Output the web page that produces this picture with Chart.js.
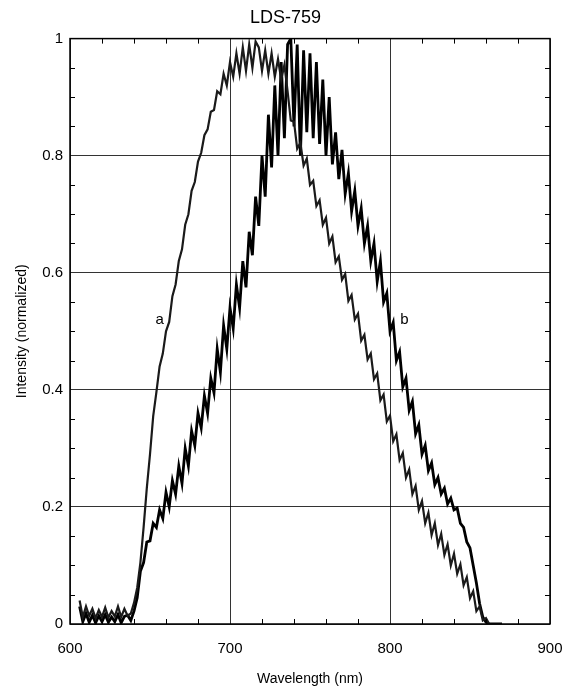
<!DOCTYPE html>
<html>
<head>
<meta charset="utf-8">
<title>LDS-759</title>
<script src="https://cdn.jsdelivr.net/npm/chart.js@4.4.1/dist/chart.umd.min.js"></script>
<style>
  html, body { margin: 0; padding: 0; background: #fff; }
  #wrap { width: 571px; height: 688px; }
</style>
</head>
<body>
<div id="wrap"><canvas id="chart" width="571" height="688"></canvas></div>
<script>
// wavelength in nm, 2 nm steps
const wavelength = [
  606, 608, 610, 612, 614, 616, 618, 620, 622, 624, 626, 628, 630, 632, 634, 636, 638, 640,
  642, 644, 646, 648, 650, 652, 654, 656, 658, 660, 662, 664, 666, 668, 670, 672, 674, 676,
  678, 680, 682, 684, 686, 688, 690, 692, 694, 696, 698, 700, 702, 704, 706, 708, 710, 712,
  714, 716, 718, 720, 722, 724, 726, 728, 730, 732, 734, 736, 738, 740, 742, 744, 746, 748,
  750, 752, 754, 756, 758, 760, 762, 764, 766, 768, 770, 772, 774, 776, 778, 780, 782, 784,
  786, 788, 790, 792, 794, 796, 798, 800, 802, 804, 806, 808, 810, 812, 814, 816, 818, 820,
  822, 824, 826, 828, 830, 832, 834, 836, 838, 840, 842, 844, 846, 848, 850, 852, 854, 856,
  858, 860, 862, 864, 866, 868, 870
];

// spectrum a (normalized intensity)
const intensityA = [
  0.040, 0.012, 0.030, 0.014, 0.026, 0.010, 0.024, 0.012, 0.028, 0.011, 0.022, 0.013, 0.030, 0.012, 0.026, 0.014, 0.018,
  0.036, 0.062, 0.105, 0.165, 0.232, 0.290, 0.355, 0.396, 0.440, 0.462, 0.500, 0.516, 0.560, 0.580, 0.620, 0.640, 0.682, 0.700,
  0.740, 0.755, 0.790, 0.805, 0.835, 0.845, 0.875, 0.878, 0.910, 0.905, 0.940, 0.920, 0.960, 0.935, 0.975, 0.940, 0.985, 0.945,
  0.990, 0.950, 0.995, 0.985, 0.945, 0.980, 0.940, 0.975, 0.935, 0.965, 0.930, 0.955, 0.910, 0.860, 0.858, 0.812, 0.822,
  0.783, 0.795, 0.750, 0.757, 0.714, 0.724, 0.682, 0.694, 0.650, 0.662, 0.618, 0.628, 0.588, 0.598, 0.552, 0.562, 0.520, 0.530,
  0.484, 0.494, 0.452, 0.462, 0.418, 0.428, 0.382, 0.392, 0.346, 0.356, 0.312, 0.324, 0.280, 0.292, 0.250, 0.264, 0.222, 0.236,
  0.195, 0.210, 0.172, 0.190, 0.152, 0.172, 0.135, 0.154, 0.118, 0.136, 0.100, 0.120, 0.086, 0.102, 0.066, 0.080, 0.044, 0.056,
  0.022, 0.030, 0.006, 0.010, 0.000, 0.000, 0.000, 0.000, 0.000
];

// spectrum b (normalized intensity)
const intensityB = [
  0.030, 0.004, 0.018, 0.003, 0.015, 0.002, 0.014, 0.004, 0.016, 0.003, 0.012, 0.004, 0.016, 0.002, 0.013, 0.015, 0.006,
  0.022, 0.045, 0.090, 0.105, 0.140, 0.142, 0.172, 0.165, 0.195, 0.180, 0.225, 0.200, 0.245, 0.222, 0.270, 0.240, 0.300, 0.270,
  0.330, 0.305, 0.360, 0.335, 0.390, 0.360, 0.420, 0.395, 0.470, 0.430, 0.510, 0.470, 0.540, 0.505, 0.580, 0.540, 0.620, 0.575,
  0.670, 0.630, 0.730, 0.680, 0.800, 0.730, 0.870, 0.780, 0.920, 0.800, 0.960, 0.830, 0.990, 1.000, 0.850, 0.990, 0.800,
  0.980, 0.840, 0.975, 0.830, 0.960, 0.820, 0.930, 0.800, 0.900, 0.785, 0.840, 0.760, 0.810, 0.735, 0.770, 0.705, 0.740, 0.680,
  0.710, 0.650, 0.680, 0.620, 0.650, 0.585, 0.620, 0.550, 0.565, 0.500, 0.515, 0.450, 0.465, 0.405, 0.420, 0.365, 0.380, 0.325,
  0.340, 0.290, 0.305, 0.262, 0.275, 0.238, 0.250, 0.222, 0.232, 0.205, 0.215, 0.195, 0.198, 0.172, 0.165, 0.140, 0.130, 0.100,
  0.070, 0.035, 0.012, 0.003, 0.000, 0.000, 0.000, 0.000, 0.000
];

// axis ticks
const xTicks = [600, 700, 800, 900];
const yTicks = [0, 0.2, 0.4, 0.6, 0.8, 1];
const xMinorTicks = [620, 640, 660, 680, 720, 740, 760, 780, 820, 840, 860, 880];
const yMinorTicks = [0.05, 0.1, 0.15, 0.25, 0.3, 0.35, 0.45, 0.5, 0.55, 0.65, 0.7, 0.75, 0.85, 0.9, 0.95];

// curve names and where they sit (data units)
const curveNames = ["a", "b"];
const curveNameX = [656, 809];
const curveNameY = [0.52, 0.52];

const FONT = "'Liberation Sans', Arial, Helvetica, sans-serif";

function toPoints(ys) {
  return wavelength.map((w, i) => ({ x: w, y: ys[i] }));
}

// frame + inward minor ticks + curve names
const extras = {
  id: "extras",
  afterDatasetsDraw(chart) {
    const { ctx, chartArea: a, scales: { x, y } } = chart;
    ctx.save();
    ctx.strokeStyle = "#000";
    ctx.lineWidth = 1;
    ctx.beginPath();
    for (const v of xMinorTicks) {
      const px = Math.round(x.getPixelForValue(v)) + 0.5;
      ctx.moveTo(px, a.bottom); ctx.lineTo(px, a.bottom - 5);
      ctx.moveTo(px, a.top); ctx.lineTo(px, a.top + 5);
    }
    for (const v of yMinorTicks) {
      const py = Math.round(y.getPixelForValue(v)) + 0.5;
      ctx.moveTo(a.left, py); ctx.lineTo(a.left + 5, py);
      ctx.moveTo(a.right, py); ctx.lineTo(a.right - 5, py);
    }
    ctx.stroke();
    ctx.lineWidth = 1.5;
    ctx.strokeRect(a.left, a.top, a.right - a.left, a.bottom - a.top);

    ctx.fillStyle = "#000";
    ctx.font = "15px " + FONT;
    ctx.textAlign = "center";
    ctx.textBaseline = "middle";
    curveNames.forEach((n, i) => {
      ctx.fillText(n, x.getPixelForValue(curveNameX[i]), y.getPixelForValue(curveNameY[i]));
    });
    ctx.restore();
  }
};

new Chart(document.getElementById("chart"), {
  type: "line",
  data: {
    datasets: [
      { label: "a", data: toPoints(intensityA), borderColor: "#1a1a1a", borderWidth: 2.2 },
      { label: "b", data: toPoints(intensityB), borderColor: "#000", borderWidth: 2.8 }
    ]
  },
  options: {
    responsive: false,
    animation: false,
    devicePixelRatio: 1,
    layout: { padding: 0 },
    elements: { point: { radius: 0 }, line: { tension: 0 } },
    plugins: {
      legend: { display: false },
      tooltip: { enabled: false },
      title: {
        display: true,
        text: "LDS-759",
        color: "#000",
        font: { family: FONT, size: 18, weight: "normal" },
        padding: { top: 7, bottom: 10 }
      }
    },
    scales: {
      x: {
        type: "linear",
        min: 600,
        max: 900,
        afterBuildTicks(s) { s.ticks = xTicks.map(v => ({ value: v })); },
        afterFit(s) { s.height = 64; s.paddingLeft = 0; s.paddingRight = 21; },
        grid: { color: "rgba(0,0,0,0.8)", lineWidth: 1, drawTicks: false },
        border: { display: false },
        ticks: { color: "#000", font: { family: FONT, size: 15 }, padding: 16, maxRotation: 0 },
        title: {
          display: true,
          text: "Wavelength (nm)",
          color: "#000",
          font: { family: FONT, size: 14 },
          padding: { top: 10, bottom: 0 }
        }
      },
      y: {
        min: 0,
        max: 1,
        afterBuildTicks(s) { s.ticks = yTicks.map(v => ({ value: v })); },
        afterFit(s) { s.width = 70; },
        grid: { color: "rgba(0,0,0,0.8)", lineWidth: 1, drawTicks: false },
        border: { display: false },
        ticks: { color: "#000", font: { family: FONT, size: 15 }, padding: 7, callback: v => String(v) },
        title: {
          display: true,
          text: "Intensity (normalized)",
          color: "#000",
          font: { family: FONT, size: 14 },
          padding: { top: 14, bottom: 0 }
        }
      }
    }
  },
  plugins: [extras]
});
</script>
</body>
</html>
